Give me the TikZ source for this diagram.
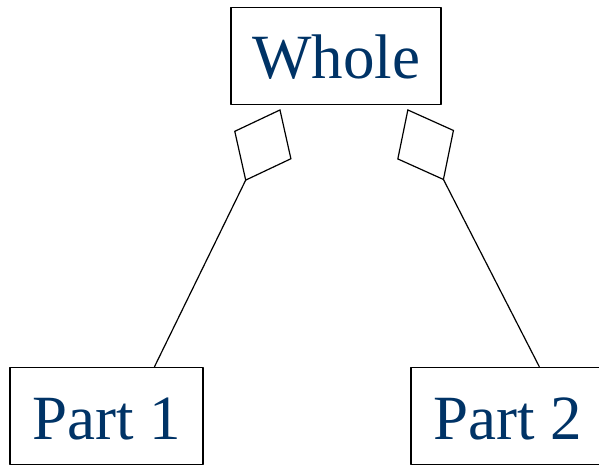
\documentclass[tikz,border=0pt]{standalone}
\usepackage{fontspec}
\setmainfont{Liberation Serif}
\usetikzlibrary{arrows.meta}
\definecolor{classblue}{RGB}{0,51,102}
\tikzset{classbox/.style={draw, line width=1.2pt, minimum height=97pt, inner sep=0pt, text height=46pt, text depth=0pt, text=classblue, font=\fontsize{63}{70}\selectfont},
  aggr/.style={-{Diamond[open, length=80pt, width=64pt, line join=miter]}, line width=1.2pt}}
\begin{document}
\begin{tikzpicture}[x=1pt,y=-1pt,line join=round]
\useasboundingbox (0,0) rectangle (599,465);
\node[classbox, minimum width=210pt] (whole) at (336,56) {Whole};
\node[classbox, minimum width=193pt] (part1) at (106.5,416) {Part 1};
\node[classbox, minimum width=193pt] (part2) at (507.5,416) {Part 2};
\coordinate (tip1) at ([xshift=50pt,yshift=-4pt]whole.south west);
\coordinate (tip2) at ([xshift=177pt,yshift=-4pt]whole.south west);
\draw[aggr] ([xshift=145pt]part1.north west) -- (tip1);
\draw[aggr] ([xshift=129pt]part2.north west) -- (tip2);
\end{tikzpicture}
\end{document}
